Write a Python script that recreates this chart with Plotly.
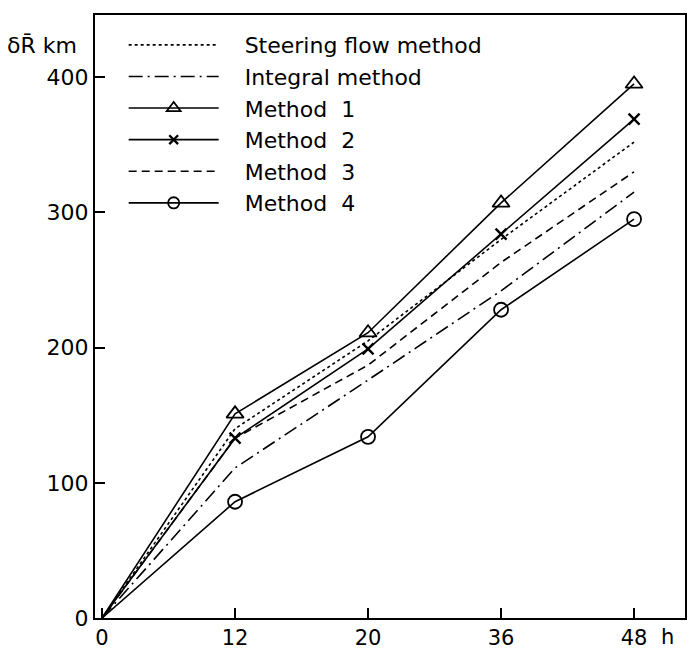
import plotly.graph_objects as go

hours = ["0", "12", "20", "36", "48"]
steering = [0, 140, 205, 280, 352]
integral = [0, 111, 176, 242, 315]
method1 = [0, 151, 211, 307, 395]
method2 = [0, 133, 199, 284, 369]
method3 = [0, 133, 187, 263, 330]
method4 = [0, 86, 134, 228, 295]

xi = list(range(len(hours)))
FONT = "DejaVu Sans"
SP = "\u00a0\u00a0\u00a0"

fig = go.Figure()
series = [
    ("Steering flow method", steering, dict(dash="dot", width=1.6), None),
    ("Integral method", integral, dict(dash="14px,5px,2px,5px", width=1.6), None),
    ("Method  1", method1, dict(width=1.6), dict(symbol="triangle-up-open", size=15, color="black", line=dict(width=1.8, color="black"))),
    ("Method  2", method2, dict(width=1.6), dict(symbol="x-thin-open", size=11, color="black", line=dict(width=2.4, color="black"))),
    ("Method  3", method3, dict(dash="8px,5px", width=1.6), None),
    ("Method  4", method4, dict(width=1.6), dict(symbol="circle-open", size=14, color="black", line=dict(width=1.8, color="black"))),
]
for name, ys, line, marker in series:
    line = dict(line, color="black")
    kw = dict(x=xi, y=ys, name=SP + name, line=line)
    if marker:
        m = dict(marker)
        m["size"] = [0] + [marker["size"]] * (len(xi) - 1)
        m["opacity"] = 1
        kw["marker"] = m
        kw["mode"] = "lines+markers"
    else:
        kw["mode"] = "lines"
    fig.add_trace(go.Scatter(**kw))

fig.update_layout(
    width=687, height=642,
    margin=dict(l=87, r=10, t=7, b=32, autoexpand=False),
    paper_bgcolor="white", plot_bgcolor="white",
    font=dict(family=FONT, size=22, color="black"),
    showlegend=True,
    legend=dict(x=0.0486, y=0.985, xanchor="left", yanchor="top",
                bgcolor="rgba(0,0,0,0)", itemwidth=90,
                font=dict(size=22, family=FONT), tracegroupgap=0),
    xaxis=dict(range=[-0.053, 4.383], tickmode="array", tickvals=xi, ticktext=hours,
               ticks="inside", ticklen=10, tickwidth=1.5, tickcolor="black",
               showline=True, linecolor="black", linewidth=2, mirror=True,
               showgrid=False, zeroline=False, tickfont=dict(size=21),
               automargin=False),
    yaxis=dict(range=[0, 446], tickvals=[0, 100, 200, 300, 400],
               ticks="inside", ticklen=10, tickwidth=1.5, tickcolor="black",
               showline=True, linecolor="black", linewidth=2, mirror=True,
               showgrid=False, zeroline=False, tickfont=dict(size=22),
               automargin=False),
    annotations=[
        dict(text="δR\u0304 km", xref="paper", yref="paper", x=-0.153, y=0.949,
             xanchor="left", yanchor="middle", showarrow=False, font=dict(size=22)),
        dict(text="h", xref="paper", yref="paper", x=0.971, y=-0.008,
             xanchor="center", yanchor="top", showarrow=False, font=dict(size=21)),
    ],
)

fig.write_html("out.html")
